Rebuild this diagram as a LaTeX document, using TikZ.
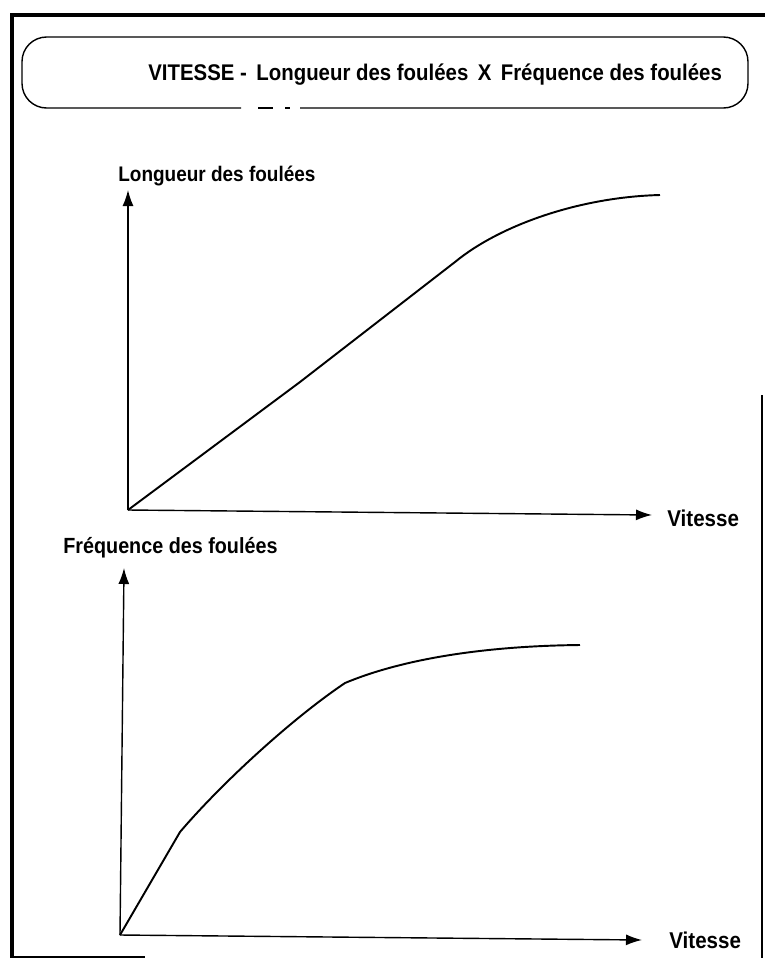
\documentclass[tikz,border=0pt]{standalone}
\usepackage{fontspec}
\setmainfont{Liberation Sans}
\newfontfamily\scanfont[FakeStretch=0.9]{Liberation Sans}
\usetikzlibrary{arrows.meta, positioning}
\tikzset{%
	axis line/.style={
		line width=0.8pt,
		-{Latex[length=3.2mm,width=2.2mm]}
	},
	speed curve/.style={
		line width=1.1pt,
		line join=round
	},
	axis label/.style={
		font=\scanfont\bfseries,
		inner sep=0pt
	},
}

\begin{document}
\begin{tikzpicture}[x=0.02cm, y=-0.02cm]
	\useasboundingbox (0,0) rectangle (765,958);

	% Frame of the page
	\draw[line width=2.8pt] (12,958) -- (12,15) -- (765,15);
	\draw[line width=1.6pt] (762,395) -- (762,958);
	\draw[line width=1.2pt] (10,957) -- (145,957);

	% Title box
	\draw[line width=0.8pt, rounded corners=14pt] (241,108) -| (22,37) -| (748,108) -- (300,108);
	\draw[line width=0.6pt] (258,108) -- (273,108);
	\draw[line width=0.6pt] (285,108) -- (290,108);
	\node[axis label, font=\scanfont\bfseries\fontsize{12.9}{14}\selectfont, anchor=west] (title) at (148,75) {VITESSE -\, Longueur des foulées \,X\, Fréquence des foulées};

	% First graph
	\coordinate (o1) at (128,510);
	\coordinate (y1) at (128,190);
	\coordinate (x1) at (652,515);
	\draw[axis line] (o1) -- (y1);
	\draw[axis line] (o1) -- (x1);
	\node[axis label, font=\scanfont\bfseries\fontsize{12}{14}\selectfont, anchor=west] (len) at (118,176) {Longueur des foulées};
	\node[axis label, font=\scanfont\bfseries\fontsize{13}{14}\selectfont, anchor=west] (v1) at (667,518) {Vitesse};
	\draw[speed curve] (o1) -- (300,382) -- (455,262)
		.. controls (500,225) and (580,197) .. (660,195);

	% Second graph
	\coordinate (o2) at (120,935);
	\coordinate (y2) at (124,568);
	\coordinate (x2) at (642,940);
	\draw[axis line] (o2) -- (y2);
	\draw[axis line] (o2) -- (x2);
	\node[axis label, font=\scanfont\bfseries\fontsize{12.5}{14}\selectfont, anchor=west] (freq) at (63,548) {Fréquence des foulées};
	\node[axis label, font=\scanfont\bfseries\fontsize{13}{14}\selectfont, anchor=west] (v2) at (669,940) {Vitesse};
	\draw[speed curve] (o2) -- (180,832)
		.. controls (220,785) and (290,720) .. (345,683)
		.. controls (400,660) and (480,646) .. (580,645);
\end{tikzpicture}
\end{document}
